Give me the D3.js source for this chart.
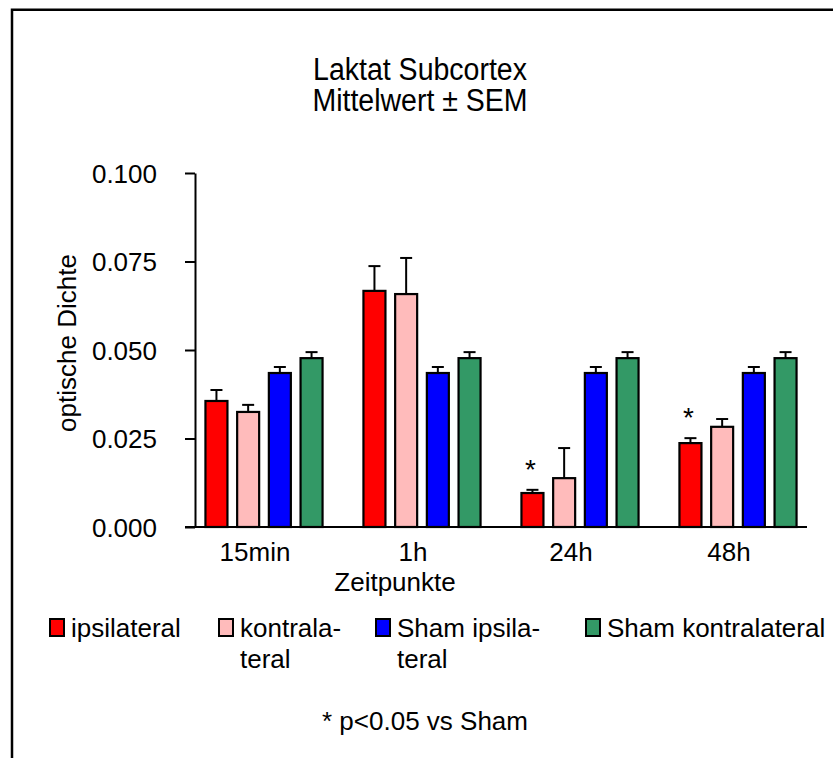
<!DOCTYPE html>
<html>
<head>
<meta charset="utf-8">
<script src="https://cdn.jsdelivr.net/npm/d3@7"></script>
<style>
  body { margin: 0; background: #fff; }
  svg text { font-family: "Liberation Sans", Arial, sans-serif; fill: #000; }
</style>
</head>
<body>
<svg class="chartSVG" width="833" height="758"></svg>
<script>
// data
const timepoints = ['15min', '1h', '24h', '48h'];
const seriesNames = ['ipsilateral', 'kontralateral', 'Sham ipsilateral', 'Sham kontralateral'];
const legendLabels = [['ipsilateral'], ['kontrala-', 'teral'], ['Sham ipsila-', 'teral'], ['Sham kontralateral']];
const seriesCols = ['#ff0000', '#ffbbbb', '#0000ff', '#339966'];

const means = [
  [0.0356, 0.0325, 0.0435, 0.0477],
  [0.0667, 0.0658, 0.0435, 0.0477],
  [0.0096, 0.0138, 0.0435, 0.0477],
  [0.0237, 0.0283, 0.0435, 0.0477]
];
const sems = [
  [0.0031, 0.0020, 0.0017, 0.0017],
  [0.0070, 0.0102, 0.0017, 0.0017],
  [0.0009, 0.0085, 0.0017, 0.0017],
  [0.0014, 0.0022, 0.0017, 0.0017]
];
// significant vs Sham: [timepoint index, series index]
const signif = [[2, 0], [3, 0]];
const yTicks = [0, 0.025, 0.05, 0.075, 0.1];

// layout
const legendX = [50, 219, 376, 586];

const svg = d3.select('svg.chartSVG');

const y = d3.scaleLinear().domain([0, 0.1]).range([527, 173]);
const x = d3.scaleBand().domain(timepoints).range([185, 817]);
const xInner = d3.scaleBand().domain(seriesNames)
    .range([0, x.bandwidth()])
    .paddingInner(0.306)
    .paddingOuter(0.645);

// frame (left and top only)
svg.append('path')
    .attr('d', 'M12,758V9.7H833')
    .style('fill', 'none')
    .style('stroke', '#000')
    .style('stroke-width', 2.5);

// titles
const titleGrp = svg.append('g')
    .attr('class', 'titles')
    .attr('transform', 'translate(420,0) scale(0.92,1)');
titleGrp.append('text')
    .attr('x', 0).attr('y', 80)
    .style('text-anchor', 'middle')
    .style('font-size', '31px')
    .text('Laktat Subcortex');
titleGrp.append('text')
    .attr('x', 0).attr('y', 111)
    .style('text-anchor', 'middle')
    .style('font-size', '31px')
    .text('Mittelwert \u00b1 SEM');

// flatten for drawing
const barData = [];
timepoints.forEach((t, i) => {
  seriesNames.forEach((s, j) => {
    barData.push({t: t, s: s, j: j, mean: means[i][j], sem: sems[i][j]});
  });
});

// error bars (drawn under the bars so they start at the bar top)
const errGrp = svg.append('g').attr('class', 'errBars');
errGrp.selectAll('line.errV')
    .data(barData)
    .enter()
    .append('line')
    .attr('class', 'errV')
    .attr('x1', d => x(d.t) + xInner(d.s) + xInner.bandwidth() / 2)
    .attr('x2', d => x(d.t) + xInner(d.s) + xInner.bandwidth() / 2)
    .attr('y1', d => y(d.mean))
    .attr('y2', d => y(d.mean + d.sem))
    .style('stroke', '#000')
    .style('stroke-width', 2);
errGrp.selectAll('line.errCap')
    .data(barData)
    .enter()
    .append('line')
    .attr('class', 'errCap')
    .attr('x1', d => x(d.t) + xInner(d.s) + xInner.bandwidth() / 2 - 6)
    .attr('x2', d => x(d.t) + xInner(d.s) + xInner.bandwidth() / 2 + 6)
    .attr('y1', d => y(d.mean + d.sem))
    .attr('y2', d => y(d.mean + d.sem))
    .style('stroke', '#000')
    .style('stroke-width', 2);

svg.append('g')
    .attr('class', 'bars')
    .selectAll('rect')
    .data(barData)
    .enter()
    .append('rect')
    .attr('x', d => x(d.t) + xInner(d.s))
    .attr('y', d => y(d.mean))
    .attr('width', xInner.bandwidth())
    .attr('height', d => y(0) - y(d.mean))
    .style('fill', d => seriesCols[d.j])
    .style('stroke', '#000')
    .style('stroke-width', 2.2);

// significance stars
svg.append('g')
    .attr('class', 'stars')
    .selectAll('text')
    .data(signif)
    .enter()
    .append('text')
    .attr('x', d => x(timepoints[d[0]]) + xInner(seriesNames[d[1]]) + xInner.bandwidth() / 2 - 2)
    .attr('y', d => y(means[d[0]][d[1]] + sems[d[0]][d[1]]) - 11)
    .style('text-anchor', 'middle')
    .style('font-size', '28px')
    .text('*');

// y axis
const yAxis = d3.axisLeft(y)
    .tickValues(yTicks)
    .tickFormat(d3.format('.3f'))
    .tickSize(10)
    .tickSizeOuter(0)
    .tickPadding(28);
const yAxisG = svg.append('g')
    .attr('transform', 'translate(195,0)')
    .call(yAxis);
yAxisG.selectAll('path, line').style('stroke', '#000').style('stroke-width', 2);
yAxisG.selectAll('text')
    .style('font-size', '26px')
    .style('font-family', '"Liberation Sans", Arial, sans-serif')
    .attr('dy', '0.36em');

// x baseline
svg.append('line')
    .attr('x1', x.range()[0]).attr('x2', x.range()[1] - 10)
    .attr('y1', y(0)).attr('y2', y(0))
    .style('stroke', '#000')
    .style('stroke-width', 2);

svg.append('g')
    .attr('class', 'xLabels')
    .selectAll('text')
    .data(timepoints)
    .enter()
    .append('text')
    .attr('x', d => x(d) + x.bandwidth() / 2 - 9)
    .attr('y', 561)
    .style('text-anchor', 'middle')
    .style('font-size', '26px')
    .text(d => d);

// axis titles
svg.append('text')
    .attr('x', 395).attr('y', 591)
    .style('text-anchor', 'middle')
    .style('font-size', '26px')
    .text('Zeitpunkte');

svg.append('text')
    .attr('transform', 'translate(76,343) rotate(-90)')
    .style('text-anchor', 'middle')
    .style('font-size', '26px')
    .text('optische Dichte');

// legend
const legG = svg.append('g')
    .attr('class', 'legend')
    .selectAll('g')
    .data(seriesNames)
    .enter()
    .append('g')
    .attr('transform', (d, i) => `translate(${legendX[i]},0)`);

legG.append('rect')
    .attr('x', 0).attr('y', 619)
    .attr('width', 14).attr('height', 17)
    .style('fill', (d, i) => seriesCols[i])
    .style('stroke', '#000')
    .style('stroke-width', 2);

legG.each(function(d, i){
  const g = d3.select(this);
  legendLabels[i].forEach((line, k) => {
    g.append('text')
        .attr('x', 21)
        .attr('y', 637 + k * 31)
        .style('font-size', '26px')
        .text(line);
  });
});

// footnote
svg.append('text')
    .attr('x', 425).attr('y', 730)
    .style('text-anchor', 'middle')
    .style('font-size', '26px')
    .text('* p<0.05 vs Sham');
</script>
</body>
</html>
